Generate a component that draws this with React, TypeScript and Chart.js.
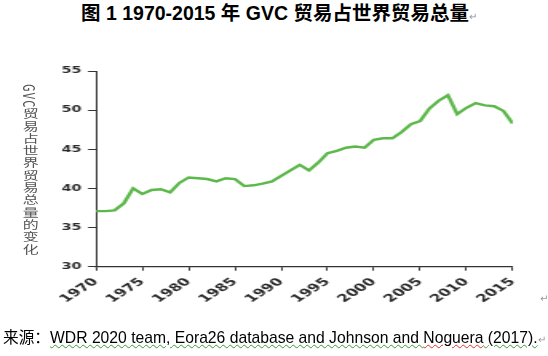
import React, { useEffect, useRef } from "react";
import { Chart, registerables } from "chart.js";

Chart.register(...registerables);

const years: number[] = [
  1970, 1971, 1972, 1973, 1974, 1975, 1976, 1977, 1978, 1979,
  1980, 1981, 1982, 1983, 1984, 1985, 1986, 1987, 1988, 1989,
  1990, 1991, 1992, 1993, 1994, 1995, 1996, 1997, 1998, 1999,
  2000, 2001, 2002, 2003, 2004, 2005, 2006, 2007, 2008, 2009,
  2010, 2011, 2012, 2013, 2014, 2015,
];
const gvcShare: number[] = [
  37.1, 37.1, 37.2, 38.1, 40.0, 39.3, 39.8, 39.9, 39.5, 40.7,
  41.4, 41.3, 41.2, 40.9, 41.3, 41.2, 40.3, 40.4, 40.6, 40.9,
  41.6, 42.3, 43.0, 42.3, 43.3, 44.5, 44.8, 45.2, 45.35, 45.2,
  46.2, 46.4, 46.4, 47.2, 48.2, 48.6, 50.2, 51.2, 51.9, 49.5,
  50.3, 50.9, 50.6, 50.5, 49.9, 48.3,
];
const xTicks: number[] = [1970, 1975, 1980, 1985, 1990, 1995, 2000, 2005, 2010, 2015];
const yMin = 30;
const yMax = 55;
const yStep = 5;

const titleText = "图 1 1970-2015 年 GVC 贸易占世界贸易总量";
const yAxisTitle = "GVC贸易占世界贸易总量的变化";
const sourceLabel = "来源：";
const sourceGreen = "WDR 2020 team, Eora26 database and Johnson and ";
const sourceRed = "Noguera";
const sourceTail = " (2017).";

const S = 1.6;
const CW = Math.round(548 / S);
const SX = 548 / CW;
const CH = 356;

export default function App() {
  const ref = useRef<HTMLCanvasElement | null>(null);

  useEffect(() => {
    if (!ref.current) return;
    const plotLeft = 96 / SX;
    const plotRight = 512.7 / SX;
    const chart = new Chart(ref.current, {
      type: "line",
      data: {
        datasets: [
          {
            data: years.map((y, i) => ({ x: y, y: gvcShare[i] })),
            borderColor: "#5cb84a",
            borderWidth: 2.4,
            pointRadius: 0,
            tension: 0,
            fill: false,
          },
        ],
      },
      options: {
        responsive: false,
        animation: false,
        devicePixelRatio: 1,
        layout: { padding: { left: 0, top: 71, right: CW - plotRight, bottom: 0 } },
        plugins: { legend: { display: false }, tooltip: { enabled: false } },
        scales: {
          x: {
            type: "linear",
            min: 1970,
            max: 2015,
            afterBuildTicks: (scale: any) => {
              scale.ticks = xTicks.map((v) => ({ value: v }));
            },
            afterFit: (scale: any) => {
              scale.height = CH - 266.7;
            },
            ticks: {
              autoSkip: false,
              maxRotation: 45,
              minRotation: 45,
              padding: 5,
              color: "#2a2a2a",
              font: { family: "DejaVu Sans", size: 10.5, weight: "bold" },
              callback: (v: any) => String(v),
            },
            grid: {
              drawOnChartArea: false,
              drawTicks: true,
              tickLength: 4,
              color: "#333",
              lineWidth: 1,
            },
            border: { display: true, color: "#333", width: 1.2 },
          },
          y: {
            min: yMin,
            max: yMax,
            afterFit: (scale: any) => {
              scale.width = plotLeft;
            },
            ticks: {
              stepSize: yStep,
              padding: 4,
              color: "#2a2a2a",
              font: { family: "DejaVu Sans", size: 9, weight: "bold" },
            },
            grid: {
              drawOnChartArea: false,
              drawTicks: true,
              tickLength: 5,
              color: "#333",
              lineWidth: 1,
            },
            border: { display: true, color: "#333", width: 1 },
          },
        },
      },
    });
    return () => chart.destroy();
  }, []);

  const wavy = (color: string): React.CSSProperties => ({
    textDecorationLine: "underline",
    textDecorationStyle: "wavy",
    textDecorationColor: color,
    textDecorationThickness: "1px",
  });

  return (
    <div
      style={{
        position: "fixed",
        left: 0,
        top: 0,
        width: 548,
        height: 356,
        overflow: "hidden",
        background: "#fff",
      }}
    >
      <div
        style={{
          position: "absolute",
          left: 0,
          top: 0,
          width: 548,
          textAlign: "center",
          fontFamily: "'Liberation Sans', 'Noto Sans CJK SC', sans-serif",
          fontWeight: "bold",
          fontSize: 19.5,
          lineHeight: "26px",
          color: "#000",
          paddingLeft: 10,
          boxSizing: "border-box",
        }}
      >
        {titleText}
        <span style={{ fontWeight: "normal", fontSize: 10, color: "#999" }}>↵</span>
      </div>
      <div
        style={{
          position: "absolute",
          left: 0,
          top: 0,
          width: CW,
          height: CH,
          transform: `scaleX(${SX})`,
          transformOrigin: "0 0",
        }}
      >
        <canvas ref={ref} width={CW} height={CH} style={{ display: "block" }} />
      </div>
      <div
        style={{
          position: "absolute",
          left: 22,
          top: 84,
          writingMode: "vertical-rl",
          fontFamily: "'Noto Sans CJK SC', sans-serif",
          fontSize: 11,
          lineHeight: "11px",
          letterSpacing: "1.3px",
          color: "#555",
          transform: "scaleX(1.45)",
          transformOrigin: "0 0",
          whiteSpace: "nowrap",
        }}
      >
        {yAxisTitle}
      </div>
      <div
        style={{
          position: "absolute",
          left: 540,
          top: 293,
          fontSize: 10,
          color: "#999",
          fontFamily: "'DejaVu Sans', sans-serif",
        }}
      >
        ↵
      </div>
      <div
        style={{
          position: "absolute",
          left: 3,
          top: 328,
          whiteSpace: "nowrap",
          fontFamily: "'Liberation Sans', 'Noto Sans CJK SC', sans-serif",
          fontSize: 15.7,
          lineHeight: "20px",
          color: "#000",
        }}
      >
        {sourceLabel}
        <span style={wavy("#3a9a3a")}>{sourceGreen}</span>
        <span style={wavy("#e03030")}>{sourceRed}</span>
        <span style={wavy("#3a9a3a")}>{sourceTail}</span>
        <span style={{ fontSize: 10, color: "#999" }}>↵</span>
      </div>
    </div>
  );
}
